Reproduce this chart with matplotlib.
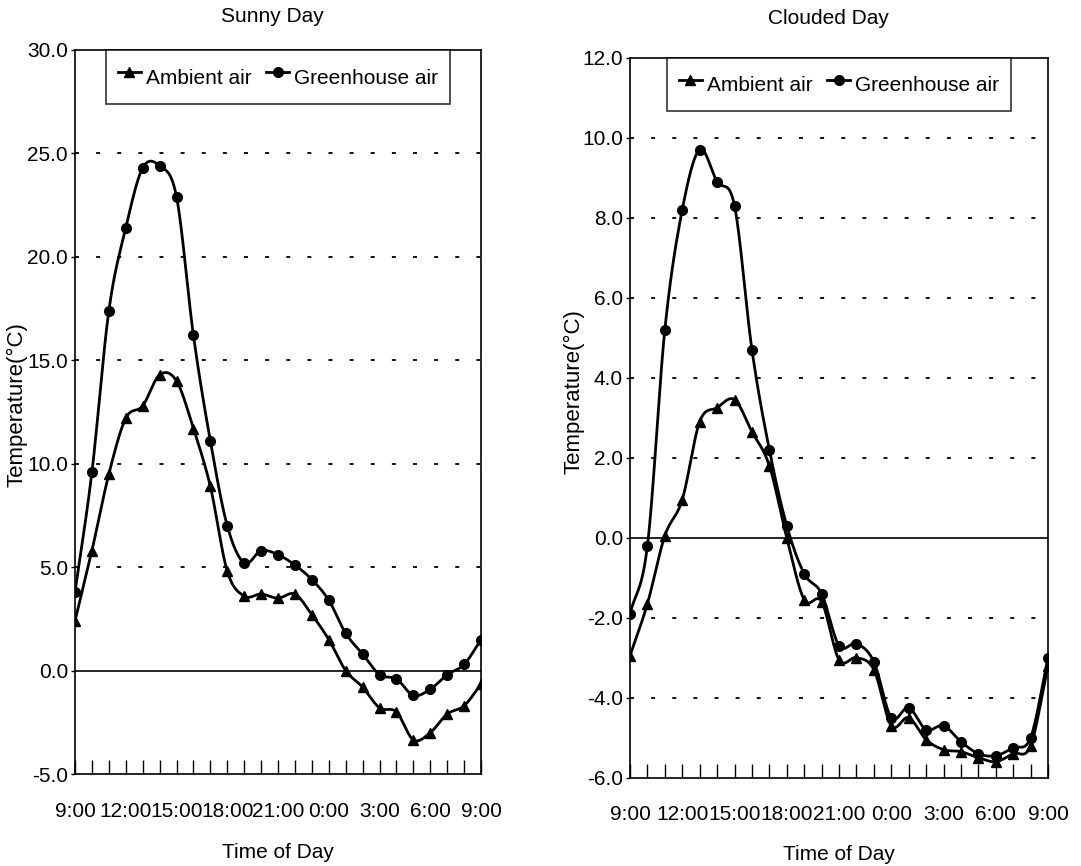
import numpy as np
import matplotlib
matplotlib.use("Agg")
import matplotlib.pyplot as plt
from matplotlib.lines import Line2D

plt.rcParams['font.family'] = ['Liberation Sans', 'DejaVu Sans']

hours = list(range(25))
hour_labels = ['9:00', '12:00', '15:00', '18:00', '21:00', '0:00', '3:00', '6:00', '9:00']

sunny_ambient = [2.4, 5.8, 9.5, 12.2, 12.8, 14.3, 14.0, 11.7, 8.9, 4.8, 3.6, 3.7, 3.5,
                 3.7, 2.7, 1.5, 0.0, -0.8, -1.8, -2.0, -3.35, -3.0, -2.1, -1.7, -0.65]
sunny_greenhouse = [3.8, 9.6, 17.4, 21.4, 24.3, 24.4, 22.9, 16.2, 11.1, 7.0, 5.2, 5.8, 5.6,
                    5.1, 4.4, 3.4, 1.8, 0.8, -0.2, -0.4, -1.2, -0.9, -0.2, 0.3, 1.5]

clouded_ambient = [-2.95, -1.65, 0.05, 0.95, 2.9, 3.25, 3.45, 2.65, 1.8, 0.0, -1.55, -1.6, -3.05,
                   -3.0, -3.3, -4.7, -4.5, -5.05, -5.3, -5.35, -5.5, -5.6, -5.4, -5.2, -3.2]
clouded_greenhouse = [-1.9, -0.2, 5.2, 8.2, 9.7, 8.9, 8.3, 4.7, 2.2, 0.3, -0.9, -1.4, -2.7,
                      -2.65, -3.1, -4.5, -4.25, -4.8, -4.7, -5.1, -5.4, -5.45, -5.25, -5.0, -3.0]


def smooth(x, y, n=16):
    # catmull-rom curve through the points, like the smoothed lines of the original
    pts = np.column_stack([x, y]).astype(float)
    P = np.vstack([2 * pts[0] - pts[1], pts, 2 * pts[-1] - pts[-2]])
    t = np.linspace(0, 1, n, endpoint=False)[:, None]
    out = []
    for i in range(1, len(P) - 2):
        p0, p1, p2, p3 = P[i - 1], P[i], P[i + 1], P[i + 2]
        seg = 0.5 * (2 * p1 + (-p0 + p2) * t + (2 * p0 - 5 * p1 + 4 * p2 - p3) * t ** 2
                     + (-p0 + 3 * p1 - 3 * p2 + p3) * t ** 3)
        out.append(seg)
    out.append(pts[-1:])
    out = np.vstack(out)
    return out[:, 0], out[:, 1]


fig = plt.figure(figsize=(10.81, 8.66), dpi=100)
ax1 = fig.add_axes([0.0694, 0.1062, 0.3756, 0.8361])
ax2 = fig.add_axes([0.5828, 0.1020, 0.3867, 0.8314])

FS = 15


def draw(ax, amb, gh, ylim, yticks, title, title_x, title_y, ylab_x, ylab_y, xlab_y):
    for vals, mk in ((amb, '^'), (gh, 'o')):
        sx, sy = smooth(hours, vals)
        ax.plot(sx, sy, color='black', lw=2.0, zorder=3)
        ax.plot(hours, vals, linestyle='none', marker=mk, color='black', ms=7, zorder=4)

    ax.set_xlim(0, 24)
    ax.set_ylim(*ylim)
    ax.set_yticks(yticks)
    ax.set_yticklabels([f'{v:.1f}' for v in yticks], fontsize=FS)
    for v in yticks:
        if v == 0:
            ax.axhline(0, color='black', lw=1.2, zorder=2)
        elif ylim[0] < v < ylim[1]:
            ax.axhline(v, color='black', lw=1.3, linestyle=(0, (2.2, 9.5)), zorder=1)

    ax.set_xticks(hours)
    ax.set_xticklabels([hour_labels[h // 3] if h % 3 == 0 else '' for h in hours], fontsize=FS)
    ax.tick_params(axis='x', direction='in', length=10, width=1, pad=20)
    ax.tick_params(axis='y', direction='out', length=3, width=1, pad=2)
    for s in ax.spines.values():
        s.set_linewidth(1.2)

    ax.set_xlabel('Time of Day', fontsize=FS)
    ax.xaxis.set_label_coords(0.5, xlab_y)
    ax.xaxis.label.set_va('center')
    ax.set_ylabel('Temperature(°C)', fontsize=FS + 1)
    ax.yaxis.set_label_coords(ylab_x, ylab_y)
    fig.text(title_x, title_y, title, fontsize=FS, ha='center', va='center')

    handles = [Line2D([], [], color='black', lw=2.0, marker='^', ms=7),
               Line2D([], [], color='black', lw=2.0, marker='o', ms=7)]
    leg = ax.legend(handles, ['Ambient air', 'Greenhouse air'], loc='upper center', ncol=2,
                    fontsize=FS, frameon=True, fancybox=False, borderaxespad=0,
                    handlelength=1.1, handletextpad=0.25, columnspacing=0.7,
                    borderpad=0.55, handleheight=1.9)
    leg.get_frame().set_edgecolor('black')
    leg.get_frame().set_linewidth(1.2)
    leg.set_zorder(5)


# x label centres: y = 852 px (left) and 855 px (right)
draw(ax1, sunny_ambient, sunny_greenhouse, (-5, 30), [-5, 0, 5, 10, 15, 20, 25, 30],
     'Sunny Day', 272 / 1081, 1 - 17 / 866, -0.118, 0.51, -(852 - 774) / 724)
draw(ax2, clouded_ambient, clouded_greenhouse, (-6, 12), [-6, -4, -2, 0, 2, 4, 6, 8, 10, 12],
     'Clouded Day', 828 / 1081, 1 - 19 / 866, -0.11, 0.536, -(855 - 778) / 720)

fig.savefig('out.png', dpi=100)
